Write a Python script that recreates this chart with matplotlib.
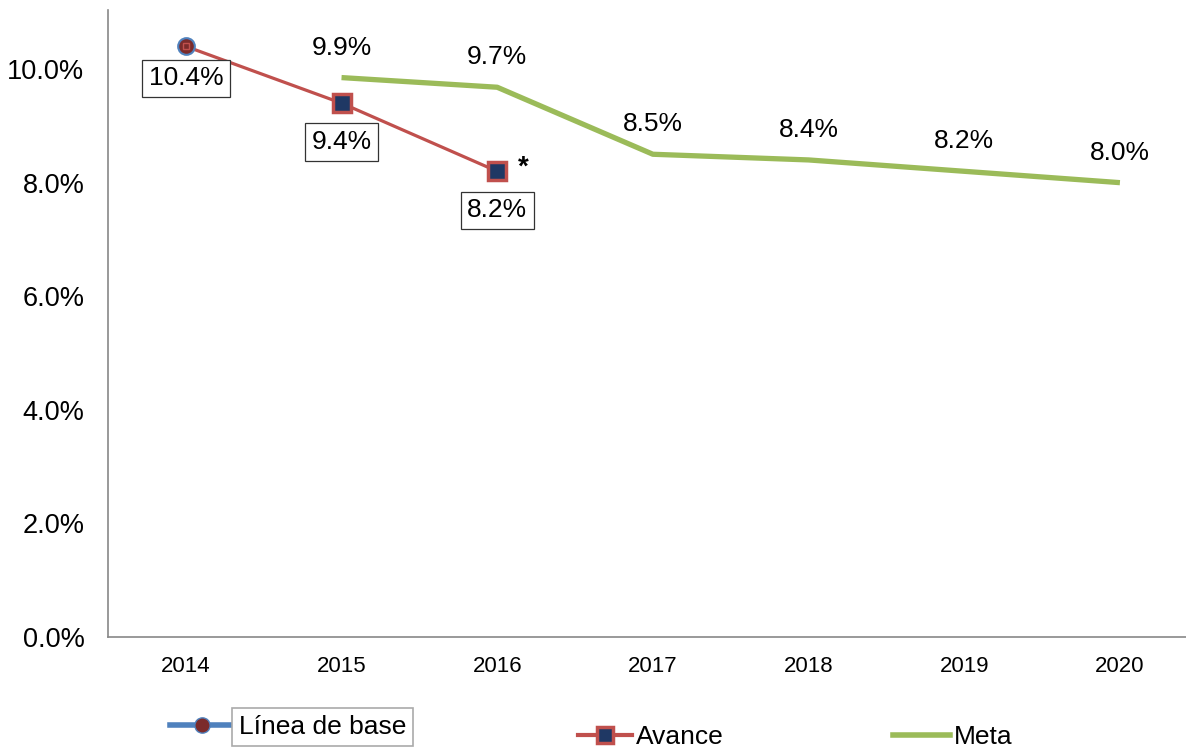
import matplotlib
matplotlib.use("Agg")
import matplotlib.pyplot as plt
from matplotlib.lines import Line2D
from matplotlib.ticker import FuncFormatter

plt.rcParams['font.family'] = ['Liberation Sans', 'DejaVu Sans']

years = ['2014', '2015', '2016', '2017', '2018', '2019', '2020']
base_vals = [10.4]
base_labels = ['10.4%']
avance_vals = [10.4, 9.4, 8.2]
avance_labels = ['9.4%', '8.2%']
meta_vals = [9.85, 9.68, 8.5, 8.4, 8.2, 8.0]
meta_labels = ['9.9%', '9.7%', '8.5%', '8.4%', '8.2%', '8.0%']
yticks = [0, 2, 4, 6, 8, 10]

BLUE = '#4F81BD'
RED = '#C0504D'
NAVY = '#1F3864'
DARKRED = '#7B2B2B'
GREEN = '#9BBB59'

fig = plt.figure(figsize=(11.86, 7.47), dpi=100)
ax = fig.add_axes([108/1186, 1-637/747, (1186-108)/1186, (637-10)/747])

x_av = list(range(len(avance_vals)))
x_me = list(range(1, 1 + len(meta_vals)))

ax.plot(x_me, meta_vals, color=GREEN, lw=3.8, solid_capstyle='butt', zorder=2)
ax.plot(x_av, avance_vals, color=RED, lw=2.3, zorder=3)
ax.plot([0], base_vals, marker='o', ms=12, mfc=DARKRED, mec=BLUE, mew=1.5,
        ls='none', zorder=4)
ax.plot([0], base_vals, marker='s', ms=4, mfc=DARKRED, mec=RED, mew=1, ls='none', zorder=5)
ax.plot(x_av[1:], avance_vals[1:], marker='s', ms=13, mfc=NAVY, mec=RED, mew=2.5,
        ls='none', zorder=5)

box = dict(boxstyle='square,pad=0.25', fc='white', ec='#333333', lw=0.9)
ax.annotate(base_labels[0], (0, base_vals[0]), xytext=(0, -23), textcoords='offset points',
            ha='center', va='center', fontsize=19, bbox=box, zorder=6)
for xi, v, lab in zip(x_av[1:], avance_vals[1:], avance_labels):
    ax.annotate(lab, (xi, v), xytext=(0, -28), textcoords='offset points',
                ha='center', va='center', fontsize=19, bbox=box, zorder=6)
for xi, v, lab in zip(x_me, meta_vals, meta_labels):
    ax.annotate(lab, (xi, v), xytext=(0, 21.5), textcoords='offset points',
                ha='center', va='center', fontsize=19, zorder=6)
ax.annotate('*', (2, avance_vals[2]), xytext=(19, 3), textcoords='offset points',
            ha='center', va='center', fontsize=20, fontweight='bold')

ax.set_xlim(-0.5, (1186-187)/155.5)
ax.set_ylim(0, 11.04)
ax.set_xticks(range(len(years)))
ax.set_xticklabels(years, fontsize=16)
ax.set_yticks(yticks)
ax.yaxis.set_major_formatter(FuncFormatter(lambda v, p: f'{v:.1f}%'))
ax.tick_params(axis='y', labelsize=19.5, length=0, pad=17)
ax.tick_params(axis='x', length=0, pad=14)
for s in ['top', 'right']:
    ax.spines[s].set_visible(False)
for s in ['left', 'bottom']:
    ax.spines[s].set_color('#888888')
    ax.spines[s].set_linewidth(1.2)

h_base = Line2D([], [], color=BLUE, lw=4, marker='o', ms=11, mfc=DARKRED, mec=BLUE)
h_av = Line2D([], [], color=RED, lw=3, marker='s', ms=11, mfc=NAVY, mec=RED, mew=2.5)
h_me = Line2D([], [], color=GREEN, lw=4)

def add_leg(h, lab, xc, yc, hl, boxed=False):
    leg = fig.legend([h], [lab], loc='center left', bbox_to_anchor=(xc/1186, 1-yc/747),
                     frameon=False, fontsize=19, handlelength=hl, handletextpad=0.15,
                     borderaxespad=0, borderpad=0)
    if boxed:
        leg.get_texts()[0].set_bbox(dict(boxstyle='square,pad=0.25', fc='white',
                                         ec='#AAAAAA', lw=1.2))
    return leg

add_leg(h_base, 'Línea de base', 170, 727, 2.45, boxed=True)
add_leg(h_av, 'Avance', 578, 737, 2.05)
add_leg(h_me, 'Meta', 893, 737, 2.15)

fig.savefig('out.png', dpi=100)
